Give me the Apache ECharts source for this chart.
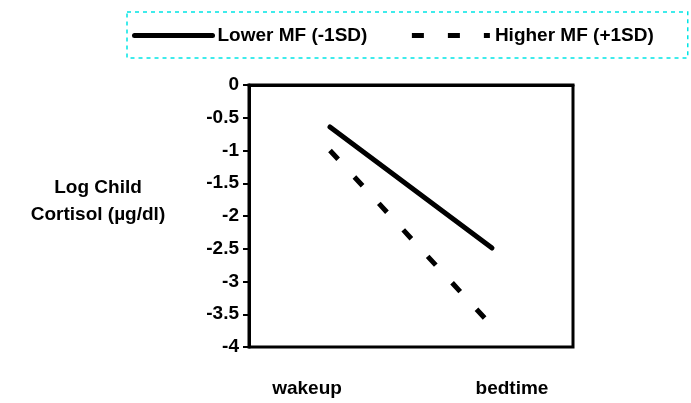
<!DOCTYPE html>
<html>
<head>
<meta charset="utf-8">
<script src="https://cdn.jsdelivr.net/npm/echarts@6/dist/echarts.min.js"></script>
<style>
  html, body { margin: 0; padding: 0; background: #fff; }
  #main { width: 691px; height: 403px; }
</style>
</head>
<body>
<div id="main"></div>
<script>
// categories and values
const timePoints = ['wakeup', 'bedtime'];
const lowerMF = [-0.64, -2.49];
const higherMF = [-1.0, -3.68];
const seriesNames = ['Lower MF (-1SD)', 'Higher MF (+1SD)'];
const yTitle = 'Log Child\nCortisol (µg/dl)';

const chartDom = document.getElementById('main');
const myChart = echarts.init(chartDom);

const font = 'Liberation Sans, Arial, sans-serif';

const option = {
  backgroundColor: '#ffffff',
  animation: false,
  legend: {
    data: seriesNames,
    left: 127,
    top: 12,
    itemWidth: 78,
    itemHeight: 14,
    itemGap: 42,
    padding: [14, 34, 13, 5],
    borderColor: '#00e5e5',
    borderWidth: 1.5,
    borderType: [4, 4],
    itemStyle: { color: 'transparent', borderWidth: 0 },
    lineStyle: { width: 5 },
    textStyle: {
      color: '#000',
      fontFamily: font,
      fontWeight: 'bold',
      fontSize: 19,
    },
  },
  graphic: [
    {
      type: 'text',
      x: 98,
      y: 201,
      style: {
        text: yTitle,
        align: 'center',
        verticalAlign: 'middle',
        fill: '#000',
        font: 'bold 19px ' + font,
        lineHeight: 27,
      },
    },
  ],
  grid: {
    left: 249,
    right: 118,
    top: 85,
    bottom: 56,
    show: true,
    borderColor: '#000',
    borderWidth: 3,
  },
  xAxis: {
    type: 'category',
    data: timePoints,
    boundaryGap: true,
    axisLine: { show: true, lineStyle: { color: '#000', width: 3 } },
    axisTick: { show: false },
    axisLabel: {
      margin: 32,
      formatter: (v) => (v === 'wakeup' ? '{a|' + v + '}' : '{b|' + v + '}'),
      rich: {
        a: { padding: [0, 46, 0, 0], fontFamily: font, fontWeight: 'bold', fontSize: 19, color: '#000' },
        b: { padding: [0, 0, 0, 40], fontFamily: font, fontWeight: 'bold', fontSize: 19, color: '#000' },
      },
    },
    splitLine: { show: false },
  },
  yAxis: {
    type: 'value',
    min: -4,
    max: 0,
    interval: 0.5,
    axisLine: { show: true, lineStyle: { color: '#000', width: 3 } },
    axisTick: { show: true, length: 6, lineStyle: { color: '#000', width: 2 } },
    axisLabel: {
      margin: 10,
      color: '#000',
      fontFamily: font,
      fontWeight: 'bold',
      fontSize: 19,
    },
    splitLine: { show: false },
  },
  series: [
    {
      name: seriesNames[0],
      type: 'line',
      data: lowerMF,
      symbol: 'none',
      lineStyle: { color: '#000', width: 5, cap: 'round' },
      itemStyle: { color: '#000' },
    },
    {
      name: seriesNames[1],
      type: 'line',
      data: higherMF,
      symbol: 'none',
      lineStyle: { color: '#000', width: 5, type: [12, 24] },
      itemStyle: { color: '#000' },
    },
  ],
};

myChart.setOption(option);
</script>
</body>
</html>
